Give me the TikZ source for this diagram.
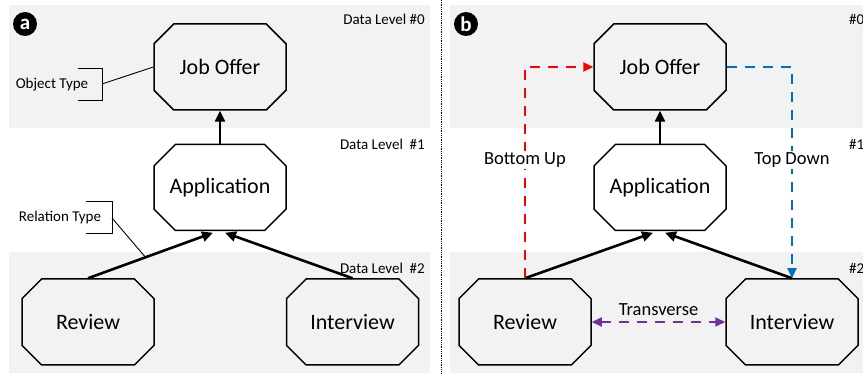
\documentclass[tikz,border=0pt]{standalone}
\usepackage{fontspec}
\setmainfont{Carlito}
\usetikzlibrary{shapes.misc,arrows.meta}

\definecolor{topdownblue}{RGB}{0,112,192}
\definecolor{transpurple}{RGB}{112,48,160}

\tikzset{
  entity/.style={chamfered rectangle, chamfered rectangle angle=45,
    chamfered rectangle xsep=12pt, chamfered rectangle ysep=12pt,
    draw, line width=1.5pt, minimum width=132pt, minimum height=86pt,
    inner sep=0pt, font=\fontsize{22}{26}\selectfont},
  levelband/.style={fill=black!5, draw=none},
  leveltext/.style={font=\fontsize{15}{18}\selectfont, inner sep=0pt},
  flowtext/.style={font=\fontsize{18.5}{22}\selectfont, inner sep=2pt},
  relarrow/.style={line width=2.6pt, -{Triangle[length=11pt,width=10pt]}},
  flowarrow/.style={line width=1.8pt, dash pattern=on 10pt off 8pt,
    -{Triangle[length=10pt,width=9pt]}},
  bracket/.style={line width=0.9pt},
  tag/.style={circle, fill=black, text=white, minimum size=24pt, inner sep=0pt,
    font=\fontsize{21}{21}\selectfont\bfseries}
}

\begin{document}
\begin{tikzpicture}[x=1pt,y=-1pt]
\useasboundingbox (0,0) rectangle (863,374);

% data levels
\fill[levelband] (9,5) rectangle (430,128);
\fill[levelband] (9,252) rectangle (430,373);
\fill[levelband] (450,5) rectangle (863,128);
\fill[levelband] (450,252) rectangle (863,373);
\draw[densely dotted, line width=0.8pt] (441,0) -- (441,374);

%% panel a
\node[tag] (taga) at (25,24) {a};
\node[leveltext, anchor=east] (lvla0) at (425,19) {Data Level \#0};
\node[leveltext, anchor=east] (lvla1) at (425,144) {Data Level~ \#1};
\node[leveltext, anchor=east] (lvla2) at (425,268) {Data Level~ \#2};

\node[entity] (joba) at (220,67) {Job Offer};
\node[entity] (appa) at (220,187.5) {Application};
\node[entity] (reva) at (88,322) {Review};
\node[entity] (inta) at (352.5,322) {Interview};

\draw[relarrow] (appa.north) -- (joba.south);
\draw[relarrow] (reva.north) -- coordinate[pos=0.46] (relpt) ([xshift=-7pt,yshift=-1.5pt]appa.south);
\draw[relarrow] (inta.north) -- ([xshift=5pt,yshift=-1.5pt]appa.south);

% type annotations
\node[leveltext] (objtype) at (52,85) {Object Type};
\draw[bracket] (78,68) -- (102,68) -- (102,100) -- (78,100);
\coordinate (objbr) at (102,84);
\draw[bracket] (objbr) -- (joba.west);

\node[leveltext] (reltype) at (60,218) {Relation Type};
\draw[bracket] (86,201) -- (112,201) -- (112,233) -- (86,233);
\coordinate (relbr) at (112,218);
\draw[bracket] (relbr) -- (relpt);

%% panel b
\node[tag] (tagb) at (466,24) {b};
\node[leveltext, anchor=west] (lvlb0) at (849,19) {\#0};
\node[leveltext, anchor=west] (lvlb1) at (849,144) {\#1};
\node[leveltext, anchor=west] (lvlb2) at (849,268) {\#2};

\node[entity] (jobb) at (660,67) {Job Offer};
\node[entity] (appb) at (660,187.5) {Application};
\node[entity] (revb) at (525,322) {Review};
\node[entity] (intb) at (792,322) {Interview};

\draw[relarrow] (appb.north) -- (jobb.south);
\draw[relarrow] (revb.north) -- ([xshift=-7pt,yshift=-1.5pt]appb.south);
\draw[relarrow] (intb.north) -- ([xshift=5pt,yshift=-1.5pt]appb.south);

\draw[flowarrow, draw=red] (revb.north) |- node[flowtext, fill=white, text=black, pos=0.28] (bottomup) {Bottom Up} (jobb.west);
\draw[flowarrow, draw=topdownblue] (jobb.east) -| node[flowtext, fill=white, text=black, pos=0.72] (topdown) {Top Down} (intb.north);
\draw[flowarrow, {Triangle[length=10pt,width=9pt]}-{Triangle[length=10pt,width=9pt]}, draw=transpurple] (revb.east) -- node[flowtext, above=3pt, text=black] (transverse) {Transverse} (intb.west);

\end{tikzpicture}
\end{document}
